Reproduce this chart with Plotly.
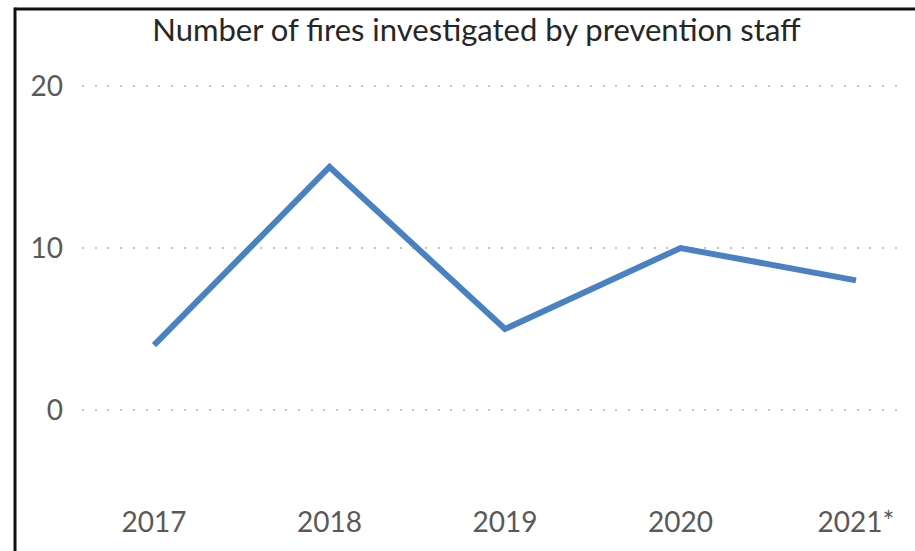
import plotly.graph_objects as go

years = ["2017", "2018", "2019", "2020", "2021*"]
fires = [4, 15, 5, 10, 8]
y_ticks = [0, 10, 20]

# the page margin is removed (post_script), so pixel targets are screen pixels
W, H = 915, 551
L, R, T, B = 82, 10, 50, 56
pw, ph = W - L - R, H - T - B
step = 175.5             # px per category
x0_px, xN_px = 154, 856  # first/last category centres
y0_px, unit = 410, 16.2  # pixel of y=0, px per unit


def px_x(p):
    return (p - L) / pw


def px_y(p):
    return (T + ph - p) / ph


fig = go.Figure()
fig.add_trace(go.Scatter(
    x=list(range(len(years))), y=fires, mode="lines",
    line=dict(color="#4a81c2", width=6),
    hoverinfo="skip", showlegend=False,
))

frame = dict(color="#111111", width=3)
fig.update_layout(
    width=W, height=H,
    margin=dict(l=L, r=R, t=T, b=B, autoexpand=False),
    paper_bgcolor="white", plot_bgcolor="white",
    font=dict(family="Lato, 'Open Sans', sans-serif", color="#595959"),
    title=dict(
        text="Number of fires investigated by prevention staff",
        font=dict(size=31, color="#262626", family="Lato, 'Open Sans', sans-serif"),
        x=px_x(476.5), xref="paper", xanchor="center",
        y=1 - 30 / H, yref="container", yanchor="middle",
    ),
    xaxis=dict(
        tickmode="array", tickvals=list(range(len(years))), ticktext=years,
        range=[-(x0_px - L) / step, 4 + (L + pw - xN_px) / step],
        showgrid=False, zeroline=False, showline=False, ticks="",
        tickfont=dict(size=28, color="#595959"),
        ticklabelstandoff=8,
    ),
    yaxis=dict(
        tickmode="array", tickvals=y_ticks,
        range=[-(T + ph - y0_px) / unit, (y0_px - T) / unit],
        showgrid=True, gridcolor="#c4c4c4", gridwidth=2, griddash="2px,10.7px",
        zeroline=False, showline=False, ticks="",
        tickfont=dict(size=28, color="#595959"),
        ticklabelstandoff=18,
    ),
    shapes=[
        dict(type="line", xref="paper", yref="paper",
             x0=px_x(15), x1=px_x(W + 5), y0=px_y(9), y1=px_y(9),
             line=frame, layer="above"),
        dict(type="line", xref="paper", yref="paper",
             x0=px_x(15), x1=px_x(15), y0=px_y(7.5), y1=px_y(H + 5),
             line=frame, layer="above"),
    ],
)

fig.write_html(
    "out.html",
    config={"displayModeBar": False},
    post_script="document.body.style.margin='0';document.body.style.overflow='hidden';",
)
